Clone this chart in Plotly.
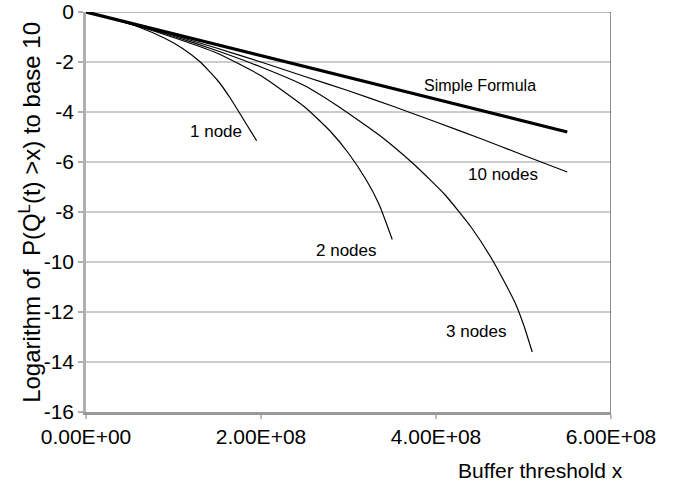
import plotly.graph_objects as go

# ---- data ----
x_simple = [0, 5.5e8]
y_simple = [0, -4.8]

x_1node = [0, 0.3e8, 0.6e8, 0.9e8, 1.1e8, 1.3e8, 1.5e8, 1.65e8, 1.8e8, 1.95e8]
y_1node = [0, -0.28, -0.6, -1.05, -1.45, -1.98, -2.72, -3.45, -4.3, -5.15]

x_2nodes = [0, 0.5e8, 1.0e8, 1.5e8, 2.0e8, 2.5e8, 2.8e8, 3.0e8, 3.2e8, 3.35e8, 3.5e8]
y_2nodes = [0, -0.47, -1.02, -1.65, -2.55, -3.8, -4.8, -5.65, -6.7, -7.7, -9.1]

x_3nodes = [0, 0.5e8, 1.0e8, 1.5e8, 2.0e8, 2.5e8, 2.85e8, 3.35e8, 3.75e8, 4.1e8, 4.4e8, 4.65e8, 4.9e8, 5.0e8, 5.1e8]
y_3nodes = [0, -0.46, -0.97, -1.55, -2.2, -2.95, -3.7, -4.92, -6.1, -7.3, -8.6, -9.95, -11.6, -12.5, -13.6]

x_10nodes = [0, 0.5e8, 1.0e8, 1.5e8, 2.0e8, 2.5e8, 3.0e8, 3.5e8, 4.0e8, 4.5e8, 5.0e8, 5.5e8]
y_10nodes = [0, -0.45, -0.93, -1.45, -2.0, -2.58, -3.15, -3.76, -4.4, -5.05, -5.73, -6.4]

x_tickvals = [0, 2e8, 4e8, 6e8]
x_ticktext = ["0.00E+00", "2.00E+08", "4.00E+08", "6.00E+08"]
y_tickvals = [0, -2, -4, -6, -8, -10, -12, -14, -16]
y_ticktext = ["0", "-2", "-4", "-6", "-8", "-10", "-12", "-14", "-16"]

labels = [
    ("Simple Formula", 4.505e8, -2.92, 16),
    ("1 node", 1.48e8, -4.79, 17),
    ("2 nodes", 2.978e8, -9.52, 17),
    ("3 nodes", 4.463e8, -12.79, 17),
    ("10 nodes", 4.764e8, -6.48, 17),
]

FONT = "Liberation Sans, Arial, sans-serif"

fig = go.Figure()
fig.add_trace(go.Scatter(x=x_simple, y=y_simple, mode="lines",
                         line=dict(color="black", width=3.2), showlegend=False))
for xs, ys in [(x_1node, y_1node), (x_2nodes, y_2nodes),
               (x_3nodes, y_3nodes), (x_10nodes, y_10nodes)]:
    fig.add_trace(go.Scatter(x=xs, y=ys, mode="lines",
                             line=dict(color="black", width=1.2, shape="spline", smoothing=0.5),
                             showlegend=False))

for text, lx, ly, fs in labels:
    fig.add_annotation(x=lx, y=ly, text=text, showarrow=False,
                       font=dict(family=FONT, size=fs, color="black"),
                       xanchor="center", yanchor="middle")

# top and right border
fig.add_shape(type="line", x0=0, x1=6e8, y0=0, y1=0, xref="x", yref="y",
              line=dict(color="#bbbbbb", width=2), layer="below")
fig.add_shape(type="line", x0=6e8, x1=6e8, y0=-16, y1=0, xref="x", yref="y",
              line=dict(color="#555555", width=1.3), layer="above")

# axis titles
fig.add_annotation(xref="paper", yref="paper", x=1.027, y=-0.145,
                   text="Buffer threshold x", showarrow=False,
                   xanchor="right", yanchor="middle",
                   font=dict(family=FONT, size=21, color="black"))
fig.add_annotation(xref="paper", yref="paper", x=-0.107, y=0.5,
                   text="Logarithm of  P(Q<sup>L</sup>(t) >x) to base 10",
                   textangle=-90, showarrow=False,
                   xanchor="center", yanchor="middle",
                   font=dict(family=FONT, size=24, color="black"))

fig.update_xaxes(range=[0, 6e8], tickvals=x_tickvals, ticktext=x_ticktext,
                 showgrid=False, zeroline=False, automargin=False,
                 showline=True, linecolor="#999999", linewidth=2.5,
                 ticks="outside", ticklen=4, tickcolor="#bbbbbb", tickwidth=2,
                 tickfont=dict(family=FONT, size=21, color="black"))
fig.update_yaxes(range=[-16, 0], tickvals=y_tickvals, ticktext=y_ticktext,
                 showgrid=True, gridcolor="#cccccc", gridwidth=1.5, zeroline=False,
                 automargin=False,
                 showline=True, linecolor="#b0b0b0", linewidth=2.5,
                 ticks="outside", ticklen=5, tickcolor="#b0b0b0", tickwidth=1.5,
                 tickfont=dict(family=FONT, size=21, color="black"))

fig.update_layout(width=690, height=486,
                  margin=dict(l=86, r=79, t=12, b=74),
                  paper_bgcolor="white", plot_bgcolor="white",
                  showlegend=False)

fig.write_html("out.html", config={"displayModeBar": False},
               post_script="document.body.style.margin='0';")
